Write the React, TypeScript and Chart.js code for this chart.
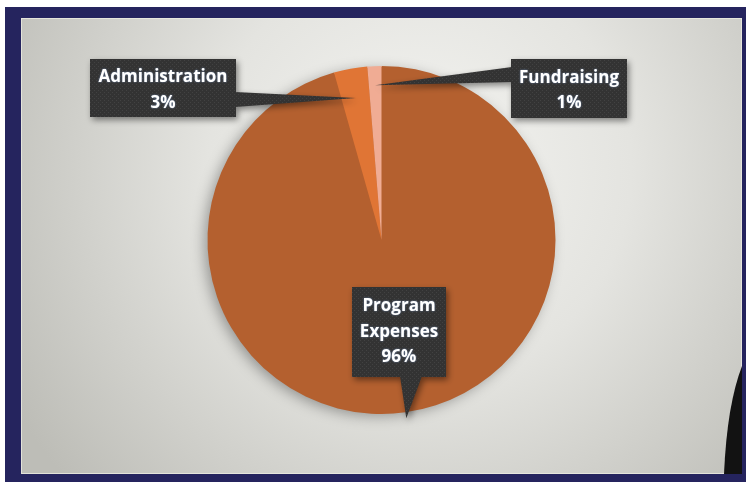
import React, { useEffect, useRef } from 'react';
import { Chart, registerables } from 'chart.js';

Chart.register(...registerables);

const categories = ['Program Expenses', 'Administration', 'Fundraising'];
const values = [95.6, 3.1, 1.3];
const sliceColors = ['#B4602F', '#E07535', '#F0AC94'];
const labelNames = [['Program', 'Expenses'], ['Administration'], ['Fundraising']];

// callout layout (box rect, wedge base, tip radius factor, text offset)
const boxes = [
  { x: 352, y: 287, w: 94, h: 90, base: [[400, 376], [422, 376]], tipR: 1.035, dy: 0 },
  { x: 90, y: 59, w: 146, h: 58, base: [[235, 92], [235, 107]], tipR: 0.83, dy: 2 },
  { x: 511, y: 59, w: 116, h: 59, base: [[512, 67], [512, 82]], tipR: 0.89, dy: 2 },
];

function makePattern(ctx: CanvasRenderingContext2D) {
  const c = document.createElement('canvas');
  c.width = 4; c.height = 4;
  const p = c.getContext('2d')!;
  p.fillStyle = '#333333';
  p.fillRect(0, 0, 4, 4);
  p.fillStyle = '#424242';
  p.fillRect(0, 0, 1, 1);
  p.fillRect(2, 2, 1, 1);
  return ctx.createPattern(c, 'repeat')!;
}

const decorPlugin = {
  id: 'decor',
  beforeDraw(chart: any) {
    const ctx: CanvasRenderingContext2D = chart.ctx;
    const W = chart.width, H = chart.height;
    ctx.save();
    ctx.fillStyle = '#ffffff';
    ctx.fillRect(0, 0, W, H);
    ctx.fillStyle = '#25245E';
    ctx.fillRect(5, 7, W - 5, H - 7);
    const gx = 21, gy = 18, gw = 742 - 21, gh = 474 - 18;
    const g = ctx.createRadialGradient(420, 170, 0, 420, 170, 470);
    g.addColorStop(0, '#F4F4F1');
    g.addColorStop(0.45, '#E4E4E0');
    g.addColorStop(1, '#BDBDB7');
    ctx.fillStyle = g;
    ctx.fillRect(gx, gy, gw, gh);
    ctx.strokeStyle = 'rgba(235,235,225,0.8)';
    ctx.lineWidth = 1;
    ctx.strokeRect(gx + 0.5, gy + 0.5, gw - 1, gh - 1);
    // dark silhouette at the bottom right
    ctx.fillStyle = '#121212';
    ctx.beginPath();
    ctx.moveTo(742, 366);
    ctx.quadraticCurveTo(727, 405, 724, 474);
    ctx.lineTo(742, 474);
    ctx.closePath();
    ctx.fill();
    ctx.restore();
  },
  beforeDatasetsDraw(chart: any) {
    const ctx: CanvasRenderingContext2D = chart.ctx;
    const arc = chart.getDatasetMeta(0).data[0];
    if (!arc) return;
    ctx.save();
    ctx.shadowColor = 'rgba(0,0,0,0.35)';
    ctx.shadowBlur = 14;
    ctx.shadowOffsetX = -4;
    ctx.shadowOffsetY = 3;
    ctx.fillStyle = sliceColors[0];
    ctx.beginPath();
    ctx.arc(arc.x, arc.y, arc.outerRadius - 1, 0, Math.PI * 2);
    ctx.fill();
    ctx.restore();
  },
  afterDatasetsDraw(chart: any) {
    const ctx: CanvasRenderingContext2D = chart.ctx;
    const meta = chart.getDatasetMeta(0);
    const pattern = makePattern(ctx);
    const total = values.reduce((a, b) => a + b, 0);
    meta.data.forEach((arc: any, i: number) => {
      const b = boxes[i];
      const mid = (arc.startAngle + arc.endAngle) / 2;
      const tx = arc.x + Math.cos(mid) * arc.outerRadius * b.tipR;
      const ty = arc.y + Math.sin(mid) * arc.outerRadius * b.tipR;
      ctx.save();
      ctx.shadowColor = 'rgba(0,0,0,0.45)';
      ctx.shadowBlur = 6;
      ctx.shadowOffsetX = 2;
      ctx.shadowOffsetY = 3;
      ctx.fillStyle = pattern;
      ctx.beginPath();
      ctx.rect(b.x, b.y, b.w, b.h);
      ctx.fill();
      ctx.beginPath();
      ctx.moveTo(b.base[0][0], b.base[0][1]);
      ctx.lineTo(tx, ty);
      ctx.lineTo(b.base[1][0], b.base[1][1]);
      ctx.closePath();
      ctx.fill();
      ctx.shadowColor = 'transparent';
      ctx.fillRect(b.x, b.y, b.w, b.h);
      ctx.restore();

      const lines = [...labelNames[i], Math.round((values[i] / total) * 100) + '%'];
      ctx.save();
      ctx.font = 'bold 17px "Open Sans"';
      ctx.fillStyle = '#ffffff';
      ctx.textAlign = 'center';
      ctx.textBaseline = 'middle';
      ctx.shadowColor = 'rgba(150,190,255,0.6)';
      ctx.shadowBlur = 2;
      const lh = 25.5;
      const cy = b.y + b.h / 2 + b.dy;
      lines.forEach((t, k) => {
        ctx.fillText(t, b.x + b.w / 2, cy + (k - (lines.length - 1) / 2) * lh);
      });
      ctx.restore();
    });
  },
};

export default function App() {
  const ref = useRef<HTMLCanvasElement>(null);
  useEffect(() => {
    const chart = new Chart(ref.current!, {
      type: 'pie',
      data: {
        labels: categories,
        datasets: [{ data: values, backgroundColor: sliceColors, borderWidth: 0, hoverOffset: 0 }],
      },
      options: {
        animation: false,
        responsive: true,
        maintainAspectRatio: false,
        layout: { padding: { left: 207, right: 190, top: 66, bottom: 68 } },
        plugins: { legend: { display: false }, tooltip: { enabled: false } },
        events: [],
      },
      plugins: [decorPlugin],
    });
    return () => chart.destroy();
  }, []);
  return (
    <div style={{ position: 'absolute', left: 0, top: 0, width: 746, height: 482 }}>
      <canvas ref={ref} />
    </div>
  );
}
